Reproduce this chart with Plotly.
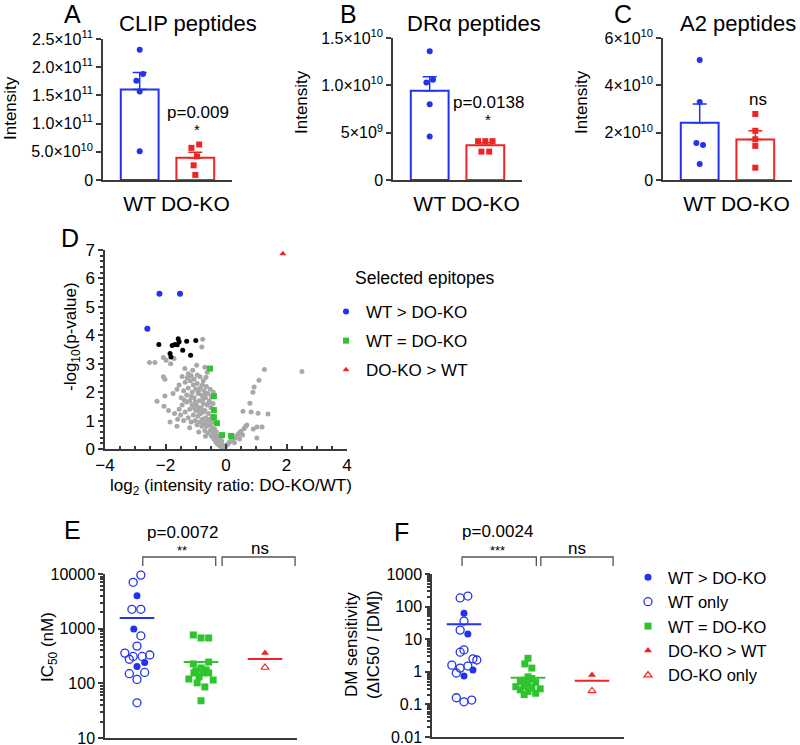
import numpy as np
import plotly.graph_objects as go

# ---------------- DATA ----------------
groups = ["WT", "DO-KO"]

# Panel A: CLIP peptides (intensity)
clip_wt = [2.31e11, 1.88e11, 1.76e11, 1.57e11, 0.51e11]
clip_ko = [6.3e10, 5.7e10, 4.2e10, 2.6e10, 0.9e10]
clip_wt_dx = [0.0, 0.06, -0.06, 0.0, 0.0]
clip_ko_dx = [0.07, -0.07, 0.03, -0.03, 0.0]

# Panel B: DR-alpha peptides
dra_wt = [1.36e10, 1.06e10, 1.03e10, 0.80e10, 0.46e10]
dra_ko = [4.1e9, 4.1e9, 4.1e9, 3.0e9, 3.0e9]
dra_wt_dx = [0.0, 0.06, -0.06, 0.0, 0.0]
dra_ko_dx = [-0.13, 0.0, 0.13, -0.07, 0.07]

# Panel C: A2 peptides
a2_wt = [5.07e10, 3.30e10, 1.56e10, 1.48e10, 0.68e10]
a2_ko = [2.79e10, 2.08e10, 1.72e10, 1.44e10, 0.52e10]
a2_wt_dx = [0.0, 0.0, -0.06, 0.06, 0.0]
a2_ko_dx = [0.0, 0.0, 0.0, 0.0, 0.0]

# Panel D: volcano plot (log2 ratio, -log10 p)
vol_blue = [(-2.20, 5.46), (-1.52, 5.46), (-2.60, 4.23)]
vol_red = [(1.88, 6.87)]
vol_green = [(-0.53, 2.83), (-0.40, 1.86), (-0.40, 1.37), (-0.40, 1.12),
             (-0.30, 0.91), (-0.13, 0.49), (0.17, 0.46)]
vol_black = [(-2.22, 3.68), (-1.78, 3.64), (-1.69, 3.68), (-1.58, 3.88), (-1.55, 3.77),
             (-1.30, 3.79), (-1.00, 3.82), (-1.43, 3.47), (-1.85, 3.36), (-1.82, 3.24),
             (-1.17, 3.30), (-1.61, 3.67)]
vol_gray = [
    (-2.53, 3.04), (-2.35, 3.04), (-2.07, 3.22), (-1.98, 3.12), (-1.83, 3.00), (-1.72, 3.18),
    (-0.77, 3.86), (-0.80, 3.59),
    (-1.36, 2.83), (-1.10, 2.77), (-0.97, 2.95), (-0.86, 2.54), (-2.07, 2.54), (-2.02, 2.45),
    (-1.25, 2.65), (-0.70, 2.88), (-0.62, 2.70), (-1.45, 2.55), (-0.95, 2.60), (-0.75, 2.40),
    (-1.05, 2.45), (-1.15, 2.58), (-0.66, 2.52),
    (-2.28, 1.68), (-2.02, 1.86), (-1.75, 1.95), (-1.62, 2.10), (-1.55, 2.25), (-1.48, 1.80),
    (-1.40, 2.05), (-1.35, 2.35), (-1.30, 1.90), (-1.25, 2.15), (-1.20, 1.70), (-1.18, 2.40),
    (-1.12, 2.00), (-1.08, 2.25), (-1.05, 1.80), (-1.00, 2.10), (-0.98, 1.55), (-0.95, 2.30),
    (-0.92, 1.95), (-0.88, 1.70), (-0.85, 2.15), (-0.82, 1.45), (-0.80, 1.88), (-0.78, 2.25),
    (-0.75, 1.60), (-0.72, 2.05), (-0.70, 1.35), (-0.68, 1.80), (-0.65, 2.20), (-0.63, 1.55),
    (-0.60, 1.95), (-0.58, 1.25), (-0.55, 1.70), (-0.52, 2.10), (-0.50, 1.45), (-0.48, 1.85),
    (-0.45, 1.15), (-0.43, 1.60), (-0.42, 2.00),
    (-1.28, 2.50), (-1.02, 1.65), (-0.90, 2.05), (-0.76, 1.75), (-0.58, 1.62), (-1.15, 1.85),
    (-1.38, 1.72), (-0.68, 1.95), (-0.88, 1.30), (-1.05, 1.45),
    (-1.60, 1.05), (-1.55, 1.40), (-1.50, 1.20), (-1.45, 1.55), (-1.40, 1.00), (-1.35, 1.30),
    (-1.30, 1.65), (-1.25, 1.10), (-1.20, 1.40), (-1.15, 0.95), (-1.12, 1.55), (-1.08, 1.20),
    (-1.02, 1.00), (-1.00, 1.35), (-0.96, 0.85), (-0.93, 1.15), (-0.90, 1.45), (-0.87, 0.95),
    (-0.84, 1.25), (-0.80, 0.80), (-0.78, 1.05), (-0.75, 1.30), (-0.72, 0.90), (-0.70, 0.65),
    (-0.67, 1.10), (-0.64, 0.80), (-0.62, 1.00), (-0.60, 0.55), (-0.57, 0.85), (-0.55, 1.05),
    (-0.52, 0.65), (-0.50, 0.90), (-0.48, 0.45), (-0.46, 0.75), (-0.44, 0.95), (-0.42, 0.55),
    (-0.40, 0.35), (-0.38, 0.70), (-0.36, 0.50), (-0.34, 0.25), (-0.32, 0.60), (-0.30, 0.40),
    (-0.28, 0.18), (-0.26, 0.45), (-0.24, 0.30), (-0.22, 0.12), (-0.20, 0.35), (-0.18, 0.22),
    (-0.16, 0.08), (-0.14, 0.28), (-0.12, 0.15), (-0.10, 0.05), (-0.08, 0.10),
    (-1.85, 0.95), (-1.62, 0.80), (-1.20, 0.75), (-0.90, 0.60), (-0.68, 0.45),
    (-1.70, 1.25), (-1.90, 1.35), (-2.05, 1.50),
    (-0.04, 0.06), (0.00, 0.12), (0.04, 0.15), (0.08, 0.20), (0.12, 0.25), (0.16, 0.28),
    (0.20, 0.32), (0.25, 0.38), (0.30, 0.40), (0.35, 0.46), (0.40, 0.52), (0.45, 0.58),
    (0.50, 0.62), (0.55, 0.49), (0.60, 0.72), (0.65, 0.80), (0.69, 0.84), (0.45, 0.35),
    (0.28, 0.22), (0.90, 0.70),
    (1.02, 0.77), (1.19, 0.77), (1.02, 0.39), (0.56, 1.33), (0.83, 1.30), (1.06, 1.26),
    (1.39, 1.23), (0.79, 1.61), (0.89, 2.00), (0.93, 2.18), (1.09, 2.42), (1.27, 2.80),
    (2.51, 2.73),
]

# Panel E: IC50 (nM)
e_wt_gt = [4000, 990, 240, 204]                    # WT > DO-KO (filled)
e_wt_gt_dx = [0.0, -0.05, 0.12, 0.0]
e_wt_only = [7050, 9550, 2260, 2260, 740, 480, 357, 276, 310, 310, 330, 150, 158, 118, 44]
e_wt_only_dx = [-0.06, 0.06, -0.08, 0.06, 0.06, 0.0, -0.19, -0.12, -0.06, 0.08, 0.2,
                -0.12, 0.12, 0.0, 0.0]
e_eq = [767, 676, 676, 245, 226, 191, 176, 169, 155, 155, 155, 120, 131, 115, 102, 86, 48]
e_eq_dx = [-0.12, 0.0, 0.12, 0.12, -0.12, 0.0, 0.08, -0.08, 0.12, -0.11, 0.03, -0.19,
           -0.03, 0.19, -0.06, 0.06, 0.0]
e_ko_gt = [360]
e_ko_only = [195]

# Panel F: DM sensitivity
f_wt_gt = [63, 14.5, 1.13, 0.74]
f_wt_gt_dx = [0.0, 0.06, 0.14, 0.0]
f_wt_only = [184, 211, 36, 19, 4.0, 4.7, 2.5, 2.3, 1.6, 1.3, 1.5, 0.92, 0.16, 0.12, 0.136]
f_wt_only_dx = [-0.06, 0.06, 0.0, -0.06, -0.06, 0.0, 0.14, 0.2, -0.19, -0.06, 0.06,
                -0.12, -0.12, 0.0, 0.12]
f_eq = [2.6, 1.75, 1.3, 0.7, 0.62, 0.55, 0.5, 0.48, 0.42, 0.38, 0.35, 0.32, 0.3, 0.28,
        0.25, 0.22, 0.2]
f_eq_dx = [0.0, -0.05, 0.06, 0.0, 0.06, -0.06, -0.12, 0.12, 0.0, -0.06, -0.19, 0.06,
           0.19, -0.12, 0.0, 0.12, -0.06]
f_ko_gt = [0.80]
f_ko_only = [0.26]

legend_labels = ["WT > DO-KO", "WT only", "WT = DO-KO", "DO-KO > WT", "DO-KO only"]

# ---------------- STYLE / LAYOUT ----------------
W, H = 800, 745
BLUE = "#2233ee"
RED = "#ee2424"
GREEN = "#2ec42e"
GRAY = "#a8a8a8"
AXC = "#3a3a3a"
FONT = "Liberation Sans, Arial, sans-serif"


def xd(a, b):
    return [a / W, b / W]


def yd(top, bottom):
    return [1 - bottom / H, 1 - top / H]


def px(x):
    return x / W


def py(y):
    return 1 - y / H


fig = go.Figure()


def bar_panel(n, wt, ko, wt_dx, ko_dx):
    xa, ya = f"x{n}" if n > 1 else "x", f"y{n}" if n > 1 else "y"
    for i, (vals, dx, col, sym) in enumerate([(wt, wt_dx, BLUE, "circle"),
                                               (ko, ko_dx, RED, "square")]):
        v = np.array(vals)
        m = v.mean()
        s = v.std(ddof=1) / np.sqrt(len(v))
        fig.add_trace(go.Bar(
            x=[i], y=[m], width=0.68, xaxis=xa, yaxis=ya, showlegend=False,
            marker=dict(color="white", line=dict(color=col, width=2)),
            error_y=dict(type="data", symmetric=False, array=[s], arrayminus=[0],
                         color=col, thickness=1.5, width=7)))
        fig.add_trace(go.Scatter(
            x=[i + d for d in dx], y=vals, mode="markers", xaxis=xa, yaxis=ya,
            showlegend=False, cliponaxis=False, marker=dict(symbol=sym, size=6, color=col)))


bar_panel(1, clip_wt, clip_ko, clip_wt_dx, clip_ko_dx)
bar_panel(2, dra_wt, dra_ko, dra_wt_dx, dra_ko_dx)
bar_panel(3, a2_wt, a2_ko, a2_wt_dx, a2_ko_dx)


def xs(pts):
    return [p[0] for p in pts]


def ys(pts):
    return [p[1] for p in pts]


fig.add_trace(go.Scatter(x=xs(vol_gray), y=ys(vol_gray), mode="markers", xaxis="x4",
                         yaxis="y4", showlegend=False, cliponaxis=False,
                         marker=dict(color=GRAY, size=5)))
fig.add_trace(go.Scatter(x=xs(vol_black), y=ys(vol_black), mode="markers", xaxis="x4",
                         yaxis="y4", showlegend=False, cliponaxis=False,
                         marker=dict(color="black", size=5)))
fig.add_trace(go.Scatter(x=xs(vol_blue), y=ys(vol_blue), mode="markers", xaxis="x4",
                         yaxis="y4", name="WT > DO-KO", legend="legend", legendgroup="d1",
                         cliponaxis=False,
                         marker=dict(color=BLUE, size=6, symbol="circle")))
fig.add_trace(go.Scatter(x=xs(vol_green), y=ys(vol_green), mode="markers", xaxis="x4",
                         yaxis="y4", name="WT = DO-KO", legend="legend", legendgroup="d2",
                         cliponaxis=False,
                         marker=dict(color=GREEN, size=6, symbol="square")))
fig.add_trace(go.Scatter(x=xs(vol_red), y=ys(vol_red), mode="markers", xaxis="x4",
                         yaxis="y4", name="DO-KO > WT", legend="legend", legendgroup="d3",
                         cliponaxis=False,
                         marker=dict(color=RED, size=6, symbol="triangle-up")))

group_pos = [0.5, 1.5, 2.5]
half_line = 0.27


def dot_panel(n, wt_gt, wt_gt_dx, wt_only, wt_only_dx, eq, eq_dx, ko_gt, ko_only, show):
    xa, ya = f"x{n}", f"y{n}"
    specs = [
        (wt_gt, wt_gt_dx, group_pos[0], dict(symbol="circle", size=7, color=BLUE), 0),
        (wt_only, wt_only_dx, group_pos[0],
         dict(symbol="circle-open", size=8, color=BLUE, line=dict(width=1.3)), 1),
        (eq, eq_dx, group_pos[1], dict(symbol="square", size=7, color=GREEN), 2),
        (ko_gt, [0.0] * len(ko_gt), group_pos[2],
         dict(symbol="triangle-up", size=7, color=RED), 3),
        (ko_only, [0.0] * len(ko_only), group_pos[2],
         dict(symbol="triangle-up-open", size=7, color=RED, line=dict(width=1.2)), 4),
    ]
    for vals, dx, g, mk, k in specs:
        fig.add_trace(go.Scatter(
            x=[g + d for d in dx], y=vals, mode="markers", xaxis=xa, yaxis=ya,
            marker=mk, name=legend_labels[k], showlegend=show, legend="legend2",
            legendgroup=f"f{k}", cliponaxis=False))
    for vals, g, col in [(wt_gt + wt_only, group_pos[0], BLUE),
                         (eq, group_pos[1], GREEN),
                         (ko_gt + ko_only, group_pos[2], RED)]:
        m = float(np.mean(vals))
        fig.add_trace(go.Scatter(x=[g - half_line, g + half_line], y=[m, m], mode="lines",
                                 xaxis=xa, yaxis=ya, showlegend=False,
                                 line=dict(color=col, width=2)))


dot_panel(5, e_wt_gt, e_wt_gt_dx, e_wt_only, e_wt_only_dx, e_eq, e_eq_dx,
          e_ko_gt, e_ko_only, False)
dot_panel(6, f_wt_gt, f_wt_gt_dx, f_wt_only, f_wt_only_dx, f_eq, f_eq_dx,
          f_ko_gt, f_ko_only, True)

# ---------------- AXES ----------------
line_kw = dict(showline=True, linecolor=AXC, linewidth=1.5, showgrid=False, zeroline=False,
               tickcolor=AXC, tickwidth=1.5, automargin=False, ticklabeloverflow="allow")


def bar_x(domain, anchor):
    return dict(domain=domain, anchor=anchor, range=[-0.66, 1.66], tickmode="array",
                tickvals=[0, 1], ticktext=groups, ticks="", ticklabelstandoff=4,
                tickfont=dict(size=21, color="black"), **line_kw)


def bar_y(domain, anchor, rng, tv, tt):
    return dict(domain=domain, anchor=anchor, range=rng, tickmode="array", tickvals=tv,
                ticktext=tt, ticks="outside", ticklen=5,
                tickfont=dict(size=16, color="black"), **line_kw)


def log_minor(lo, hi):
    return [k * 10.0 ** d for d in range(lo, hi) for k in range(2, 10)]


layout_axes = dict(
    xaxis=bar_x(xd(103, 232), "y"),
    yaxis=bar_y(yd(39, 180), "x", [0, 2.5e11],
                [0, 5e10, 1e11, 1.5e11, 2e11, 2.5e11],
                ["0", "5.0×10<sup>10</sup>", "1.0×10<sup>11</sup>", "1.5×10<sup>11</sup>",
                 "2.0×10<sup>11</sup>", "2.5×10<sup>11</sup>"]),
    xaxis2=bar_x(xd(393, 522), "y2"),
    yaxis2=bar_y(yd(38, 180), "x2", [0, 1.5e10], [0, 5e9, 1e10, 1.5e10],
                 ["0", "5×10<sup>9</sup>", "1.0×10<sup>10</sup>", "1.5×10<sup>10</sup>"]),
    xaxis3=bar_x(xd(663, 792), "y3"),
    yaxis3=bar_y(yd(38, 180), "x3", [0, 6e10], [0, 2e10, 4e10, 6e10],
                 ["0", "2×10<sup>10</sup>", "4×10<sup>10</sup>", "6×10<sup>10</sup>"]),
    xaxis4=dict(domain=xd(105, 347), anchor="y4", range=[-4, 4], tickmode="linear",
                tick0=-4, dtick=2, ticks="inside", ticklen=5,
                minor=dict(ticks="inside", ticklen=3, dtick=0.5, tickcolor=AXC,
                           showgrid=False),
                tickfont=dict(size=17, color="black"), **line_kw),
    yaxis4=dict(domain=yd(250, 449), anchor="x4", range=[0, 7], tickmode="linear",
                tick0=0, dtick=1, ticks="outside", ticklen=5,
                minor=dict(ticks="outside", ticklen=3, dtick=0.2, tickcolor=AXC,
                           showgrid=False),
                tickfont=dict(size=17, color="black"), **line_kw),
    xaxis5=dict(domain=xd(105, 297), anchor="y5", range=[0, 3], showticklabels=False,
                ticks="", **line_kw),
    yaxis5=dict(domain=yd(574, 738), anchor="x5", type="log", range=[1, 4],
                tickmode="array", tickvals=[10, 100, 1000, 10000],
                ticktext=["10", "100", "1000", "10000"], ticks="outside", ticklen=5,
                minor=dict(ticks="outside", ticklen=3, tickmode="array",
                           tickvals=log_minor(1, 4), tickcolor=AXC, showgrid=False),
                tickfont=dict(size=16, color="black"), **line_kw),
    xaxis6=dict(domain=xd(432, 624), anchor="y6", range=[0, 3], showticklabels=False,
                ticks="", **line_kw),
    yaxis6=dict(domain=yd(574, 737), anchor="x6", type="log", range=[-2, 3],
                tickmode="array", tickvals=[0.01, 0.1, 1, 10, 100, 1000],
                ticktext=["0.01", "0.1", "1", "10", "100", "1000"], ticks="outside",
                ticklen=5,
                minor=dict(ticks="outside", ticklen=3, tickmode="array",
                           tickvals=log_minor(-2, 3), tickcolor=AXC, showgrid=False),
                tickfont=dict(size=16, color="black"), **line_kw),
)

# ---------------- ANNOTATIONS ----------------
ann = []


def text(x, y, s, size=17, angle=0, xanchor="center"):
    ann.append(dict(x=px(x), y=py(y), xref="paper", yref="paper", text=s, showarrow=False,
                    xanchor=xanchor, yanchor="middle", textangle=angle,
                    font=dict(size=size, color="black", family=FONT)))


for letter, x, y in [("A", 72, 14), ("B", 348, 14), ("C", 623, 14), ("D", 70, 238),
                     ("E", 72, 530), ("F", 402, 532)]:
    text(x, y, letter, size=25)
text(188, 23, "CLIP peptides", size=22)
text(474, 23, "DRα peptides", size=22)
text(738, 23, "A2 peptides", size=22)
text(10, 108, "Intensity", angle=-90)
text(302, 102, "Intensity", angle=-90)
text(582, 102, "Intensity", angle=-90)
text(198, 113, "p=0.009")
text(197, 129, "*", size=15)
text(488, 103, "p=0.0138")
text(488, 119, "*", size=15)
text(758, 99, "ns")
text(72, 337, "-log<sub>10</sub>(p-value)", angle=-90)
text(231, 487, "log<sub>2</sub> (intensity ratio: DO-KO/WT)")
text(353, 278, "Selected epitopes", size=17.5, xanchor="left")
text(182, 532, "p=0.0072")
text(182, 550, "**", size=13)
text(260, 548, "ns")
text(497, 531, "p=0.0024")
text(497, 550, "***", size=13)
text(577, 548, "ns")
text(49, 647, "IC<sub>50</sub> (nM)", angle=-90)
text(362, 645, "DM sensitivity<br>(ΔIC50 / [DM])", angle=-90)

shapes = []
for xa, x0, x1 in [("x5", 0.59, 1.73), ("x5", 1.83, 2.97), ("x6", 0.47, 1.63),
                   ("x6", 1.70, 2.83)]:
    top, bot = py(557), py(566)
    shapes.append(dict(type="path", xref=xa, yref="paper",
                       path=f"M {x0},{bot} L {x0},{top} L {x1},{top} L {x1},{bot}",
                       line=dict(color="#555555", width=1.3)))

fig.update_layout(
    width=W, height=H, autosize=False,
    margin=dict(l=0, r=0, t=0, b=0, pad=0, autoexpand=False),
    paper_bgcolor="white", plot_bgcolor="white",
    font=dict(family=FONT, color="black", size=16),
    barmode="overlay",
    annotations=ann, shapes=shapes,
    legend=dict(x=px(326), y=py(294), xanchor="left", yanchor="top",
                font=dict(size=17, color="black"), tracegroupgap=4,
                bgcolor="rgba(0,0,0,0)", traceorder="grouped", itemsizing="trace"),
    legend2=dict(x=px(628), y=py(560), xanchor="left", yanchor="top",
                 font=dict(size=16.5, color="black"), tracegroupgap=0,
                 bgcolor="rgba(0,0,0,0)", traceorder="grouped", itemsizing="trace"),
    **layout_axes,
)

fig.write_html("out.html", config={"displayModeBar": False},
               post_script="document.body.style.margin='0';"
                           "document.body.style.overflow='hidden';")
